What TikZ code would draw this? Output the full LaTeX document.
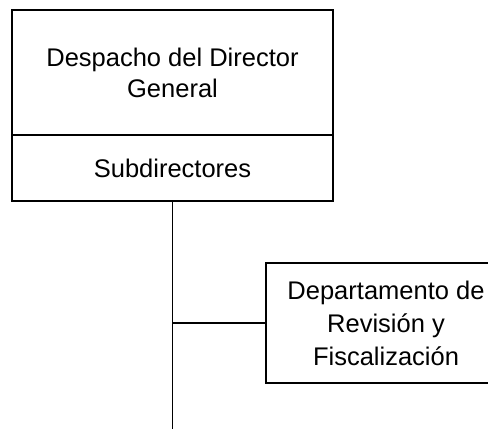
\documentclass[tikz,border=0pt]{standalone}
\usepackage{fontspec}
\setmainfont{Liberation Sans}
\begin{document}
\begin{tikzpicture}[x=1pt, y=1pt,
		caja/.style={draw, line width=2pt, inner sep=0pt, align=center,
			font=\fontsize{25.5}{31}\selectfont}]
		\useasboundingbox (0, 0) rectangle (488, -429);
		\node [caja, minimum width=321pt, minimum height=125pt] (Despacho) at (172.5, -72.5) {Despacho del Director\\General};
		\node [caja, minimum width=321pt, minimum height=66pt] (Subdir) at (172.5, -168) {Subdirectores};
		\node [caja, minimum width=240pt, minimum height=120pt, font=\fontsize{25.5}{33}\selectfont] (Depto) at (386, -323) {Departamento de\\Revisión y\\Fiscalización};
		\coordinate (Fin) at (172.5, -429);
		\draw [line width=1.8pt] (Subdir.south) -- (Fin);
		\draw [line width=1.8pt] (Depto.west) -- (Depto.west -| Subdir.south);
	\end{tikzpicture}
\end{document}
